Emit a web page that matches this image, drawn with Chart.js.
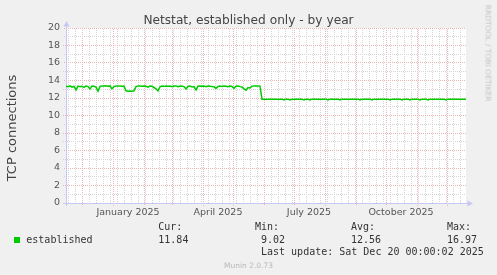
<!DOCTYPE html>
<html><head><meta charset="utf-8">
<script src="https://cdn.jsdelivr.net/npm/chart.js@4.4.1/dist/chart.umd.min.js"></script>
<style>
html,body{margin:0;padding:0;background:#f0f0f0;}
#wrap{position:relative;width:497px;height:275px;overflow:hidden;background:#f0f0f0;}
canvas{position:absolute;left:0;top:0;}
.t{position:absolute;white-space:pre;line-height:1;margin:0;}
.mono{font-family:"DejaVu Sans Mono",monospace;font-size:10px;color:#333;}
.rot{transform:translate(-50%,-50%) rotate(-90deg);}
.rotr{transform:translate(-50%,-50%) rotate(90deg);}
</style></head><body>
<div id="wrap">
<canvas id="c" width="497" height="275"></canvas>
<div class="t" style="left:0;width:497px;text-align:center;top:12.8px;font:12.2px 'DejaVu Sans';color:#444;">Netstat, established only - by year</div>
<div class="t rot" style="left:11px;top:128px;font:13px 'DejaVu Sans';color:#444;">TCP connections</div>
<div class="t rotr" style="left:488px;top:53px;font:7.5px 'DejaVu Sans';color:#c4c4c4;">RRDTOOL / TOBI OETIKER</div>
<div id="legend"></div>
<div class="t" style="left:0;width:497px;text-align:center;top:260.6px;font:7.5px 'DejaVu Sans';color:#b8b8b8;">Munin 2.0.73</div>
</div>
<script>
// ---- data (one point every 2 days, starting 2024-11-15, ending 2025-12-20) ----
const startDate = "2024-11-15";
const stepDays = 2;
const connections = [
 13.35,13.30,13.38,13.25,13.33,12.92,13.36,13.28,13.35,13.22,
 13.37,13.30,13.02,13.36,13.34,13.25,12.78,13.33,13.38,13.36,
 13.40,13.35,13.38,13.05,13.30,13.36,13.38,13.37,13.35,13.36,
 12.82,12.78,12.80,12.77,12.82,13.30,13.38,13.36,13.33,13.37,
 13.35,13.24,13.36,13.34,13.20,13.05,12.80,13.28,13.36,13.33,
 13.38,13.35,13.37,13.30,13.36,13.38,13.28,13.36,13.34,13.30,
 13.03,13.32,13.36,13.25,13.30,12.92,13.35,13.37,13.33,13.36,
 13.30,13.37,13.35,13.30,13.28,13.10,13.33,13.36,13.32,13.37,
 13.35,13.30,13.36,13.33,13.10,13.35,13.37,13.30,13.25,13.05,
 12.90,13.20,13.15,13.36,13.38,13.37,13.38,13.36,
 11.87,11.87,11.87,11.87,11.87,11.87,11.87,11.87,11.87,11.87,
 11.87,11.77,11.87,11.87,11.77,11.87,11.87,11.87,11.87,11.87,
 11.87,11.77,11.87,11.87,11.77,11.87,11.87,11.87,11.87,11.87,
 11.87,11.87,11.87,11.77,11.87,11.87,11.87,11.87,11.87,11.77,
 11.87,11.87,11.87,11.87,11.87,11.87,11.87,11.87,11.87,11.77,
 11.87,11.87,11.87,11.87,11.87,11.77,11.87,11.87,11.87,11.87,
 11.87,11.87,11.87,11.87,11.77,11.87,11.87,11.87,11.87,11.87,
 11.77,11.87,11.87,11.87,11.77,11.87,11.87,11.87,11.87,11.77,
 11.87,11.87,11.87,11.77,11.87,11.87,11.87,11.87,11.87,11.87,
 11.87,11.87,11.77,11.87,11.87,11.87,11.87,11.87,11.87,11.87,
 11.87,11.87,11.85
];
// x-axis: days since start
const monthStarts = [16,47,78,106,137,167,198,228,259,290,320,351,381];
const weekLines = [2,9,23,30,37,44,51,58,65,72,79,86,93,100,107,114,121,128,135,142,149,156,163,170,177,184,191,205,212,219,226,233,240,247,254,261,268,275,282,289,296,303,310,317,324,331,338,345,352,359,366,373,380,387,394];
const xLabels = ["January 2025","April 2025","July 2025","October 2025"];
const xLabelDays = [62,152,243,335];
const yTicks = [0,2,4,6,8,10,12,14,16,18,20];
const legendName = "established";
const stats = {cur:"11.84", min:"9.02", avg:"12.56", max:"16.97"};
const lastUpdate = "Last update: Sat Dec 20 00:00:02 2025";

const AXIS = '#c6c8f2', LINE = '#00cc00';
function dots(col){
  const p = document.createElement('canvas'); p.width = 2; p.height = 2;
  const g = p.getContext('2d'); g.fillStyle = col;
  g.fillRect(0,0,1,1); g.fillRect(1,1,1,1);
  return document.getElementById('c').getContext('2d').createPattern(p,'repeat');
}
const MAJOR = dots('#ecb4b4'), MINOR = dots('#d4d4d4'), NONE = 'rgba(0,0,0,0)';

// legend (HTML text)
(function(){
  const L = document.getElementById('legend');
  const add = (txt, x, base) => {
    const d = document.createElement('div');
    d.className = 't mono'; d.textContent = txt;
    d.style.left = x + 'px'; d.style.top = (base - 8.46) + 'px';
    L.appendChild(d);
  };
  const sq = document.createElement('div');
  sq.style.cssText = 'position:absolute;left:14px;top:237px;width:6px;height:6px;background:'+LINE+';';
  L.appendChild(sq);
  add(legendName, 26.3, 243.3);
  add('Cur:', 158.3, 230.7); add(stats.cur, 158.3, 243.3);
  add('Min:', 255, 230.7); add(stats.min, 261, 243.3);
  add('Avg:', 351, 230.7); add(stats.avg, 351, 243.3);
  add('Max:', 447, 230.7); add(stats.max, 447, 243.3);
  add(lastUpdate, 261, 255.2);
})();

const points = connections.map((v,i)=>({x:i*stepDays, y:v}));

const arrows = {
  id:'arrows',
  afterDraw(chart){
    const {ctx, chartArea:a} = chart;
    const L = Math.round(a.left)+0.5, B = Math.round(a.bottom)+0.5;
    ctx.save();
    ctx.strokeStyle = AXIS; ctx.fillStyle = AXIS; ctx.lineWidth = 1;
    ctx.beginPath();
    ctx.moveTo(L, a.top); ctx.lineTo(L, a.top-4);
    ctx.moveTo(L, a.bottom); ctx.lineTo(L, a.bottom+3);
    ctx.moveTo(a.left-3, B); ctx.lineTo(a.left, B);
    ctx.moveTo(a.right, B); ctx.lineTo(a.right+3, B);
    ctx.stroke();
    ctx.beginPath();
    ctx.moveTo(L, a.top-7); ctx.lineTo(L-3, a.top-1.5); ctx.lineTo(L+3, a.top-1.5); ctx.closePath(); ctx.fill();
    ctx.beginPath();
    ctx.moveTo(a.right+7, B); ctx.lineTo(a.right+1.5, B-3); ctx.lineTo(a.right+1.5, B+3); ctx.closePath(); ctx.fill();
    ctx.restore();
  }
};
const plotBg = {
  id:'plotBg',
  beforeDraw(chart){
    const {ctx, chartArea:a} = chart;
    ctx.save(); ctx.fillStyle='#ffffff';
    ctx.fillRect(a.left, a.top, a.right-a.left, a.bottom-a.top);
    ctx.restore();
  }
};

new Chart(document.getElementById('c'), {
  type:'line',
  data:{datasets:[{data:points, borderColor:LINE, borderWidth:1.5, pointRadius:0, tension:0, fill:false}]},
  options:{
    responsive:false, animation:false, events:[],
    layout:{padding:{left:0, top:28, right:31, bottom:0}},
    plugins:{legend:{display:false}, title:{display:false}, tooltip:{enabled:false}},
    scales:{
      x:{
        type:'linear', min:0, max:400,
        afterFit(s){ s.height = 72; },
        afterBuildTicks(s){
          const t = [];
          weekLines.forEach(v=>t.push({value:v, kind:'minor'}));
          monthStarts.forEach(v=>t.push({value:v, kind:'major'}));
          xLabelDays.forEach((v,i)=>t.push({value:v, kind:'label', text:xLabels[i]}));
          t.sort((a,b)=>a.value-b.value);
          s.ticks = t;
        },
        ticks:{
          autoSkip:false, maxRotation:0, minRotation:0, padding:1,
          color:'#555', font:{family:'DejaVu Sans', size:9.5},
          callback(v, i, ticks){ return ticks[i].kind==='label' ? ticks[i].text : ''; }
        },
        grid:{
          color(c){ const k=c.tick&&c.tick.kind; return k==='major'?MAJOR:(k==='minor'?MINOR:NONE); },
          tickColor(c){ const k=c.tick&&c.tick.kind; return k==='major'?MAJOR:NONE; },
          tickLength:3, lineWidth:1
        },
        border:{color:AXIS, width:1}
      },
      y:{
        min:0, max:20,
        afterFit(s){ s.width = 66; },
        afterBuildTicks(s){
          const t=[]; for (let v=0; v<=20; v++) t.push({value:v});
          s.ticks = t;
        },
        ticks:{
          autoSkip:false, padding:3, color:'#555', font:{family:'DejaVu Sans', size:9.5},
          callback(v){ return yTicks.includes(v) ? String(v) : ''; }
        },
        grid:{
          color(c){ return (c.tick && c.tick.value%2===0) ? MAJOR : MINOR; },
          tickColor(c){ return (c.tick && c.tick.value%2===0) ? MAJOR : MINOR; },
          tickLength:3, lineWidth:1
        },
        border:{color:AXIS, width:1}
      }
    }
  },
  plugins:[plotBg, arrows]
});
</script>
</body></html>
